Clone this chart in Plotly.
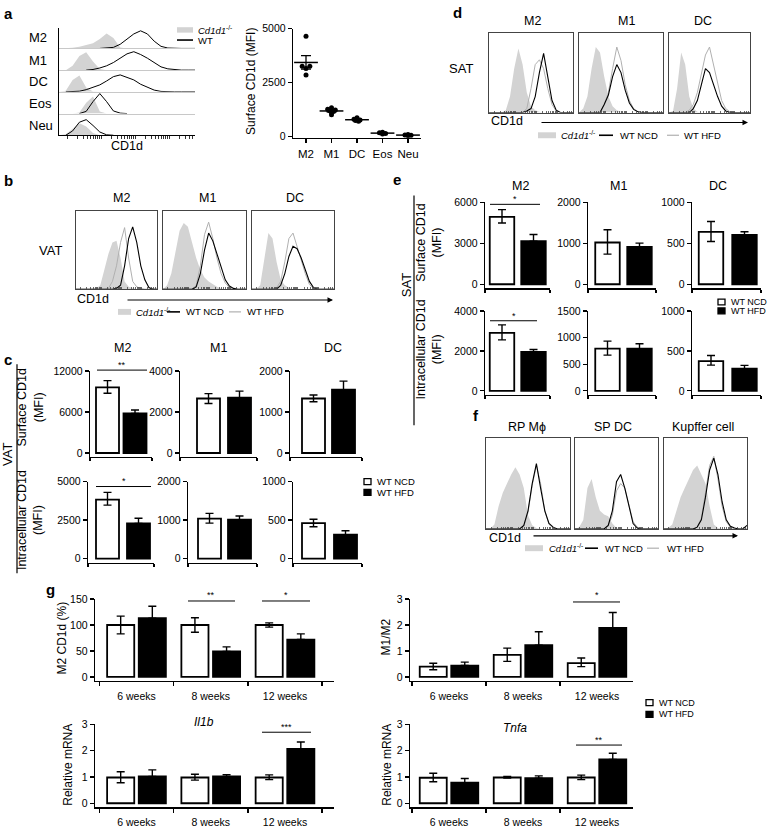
import math
import plotly.graph_objects as go

W, H = 772, 828
FONT = "Liberation Sans, Arial, sans-serif"
KO_FILL = "#d3d3d3"
HFD_LINE = "#b0b0b0"

# ======================= DATA =======================
# (a) surface CD1d, individual mice per cell type
A_CATS = ["M2", "M1", "DC", "Eos", "Neu"]
A_M2 = [4650, 3250, 3250, 3150, 2850]
A_M1 = [1320, 1260, 1220, 1180, 1150, 1100, 1000]
A_DC = [860, 790, 760, 730, 700]
A_EOS = [190, 160, 130, 100]
A_NEU = [80, 60, 45, 30]
A_JIT_M2 = [0, -0.15, 0.15, 0, 0]
A_JIT_M1 = [0, -0.15, 0.15, -0.08, 0.08, 0, 0]
A_JIT_DC = [0, -0.12, 0.12, -0.06, 0.06]
A_JIT_EOS = [0, -0.12, 0.12, 0]
A_JIT_NEU = [0, -0.12, 0.12, 0]
A_TICKS = [0, 2500, 5000]

# histogram channel positions (% of CD1d axis)
HX = [0, 5, 10, 15, 20, 25, 30, 35, 40, 45, 50, 55, 60, 65, 70, 75, 80, 85, 90, 95, 100]

# (a) stacked histograms (fraction of row height)
A_KO_M2 = [0, 0, 0.03, 0.08, 0.15, 0.25, 0.45, 0.72, 0.5, 0.05, 0, 0, 0, 0, 0, 0, 0, 0, 0, 0, 0]
A_WT_M2 = [None, None, None, None, None, None, 0, 0.02, 0.05, 0.2, 0.45, 0.7, 0.85, 0.7, 0.35, 0.1, 0.02, 0, 0, 0, 0]
A_KO_M1 = [0, 0, 0.2, 0.65, 0.82, 0.4, 0.05, 0, 0, 0, 0, 0, 0, 0, 0, 0, 0, 0, 0, 0, 0]
A_WT_M1 = [None, None, None, None, 0, 0.03, 0.1, 0.2, 0.35, 0.55, 0.75, 0.85, 0.72, 0.55, 0.35, 0.15, 0.06, 0.02, 0, 0, 0]
A_KO_DC = [0, 0.05, 0.55, 0.75, 0.2, 0.02, 0, 0, 0, 0, 0, 0, 0, 0, 0, 0, 0, 0, 0, 0, 0]
A_WT_DC = [None, 0, 0.01, 0.03, 0.1, 0.2, 0.32, 0.5, 0.7, 0.78, 0.68, 0.55, 0.35, 0.2, 0.08, 0.02, 0, 0, 0, 0, 0]
A_KO_EOS = [0, 0, 0, 0.05, 0.5, 0.78, 0.1, 0, 0, 0, 0, 0, 0, 0, 0, 0, 0, 0, 0, 0, 0]
A_WT_EOS = [None, None, None, 0, 0.1, 0.55, 0.92, 0.55, 0.12, 0.02, 0, None, None, None, None, None, None, None, None, None, None]
A_KO_NEU = [0, 0.05, 0.3, 0.55, 0.4, 0.1, 0, 0, 0, 0, 0, 0, 0, 0, 0, 0, 0, 0, 0, 0, 0]
A_WT_NEU = [None, 0, 0.2, 0.6, 0.72, 0.45, 0.15, 0.02, 0, None, None, None, None, None, None, None, None, None, None, None, None]

# (b) VAT histograms
B_M2_KO = [0, 0, 0, 0, 0, 0.01, 0.05, 0.25, 0.45, 0.6, 0.62, 0.4, 0.1, 0.03, 0.01, 0, 0, 0, 0, 0, 0]
B_M2_HFD = [0, 0, 0, 0, 0, 0, 0, 0, 0.01, 0.1, 0.3, 0.6, 0.79, 0.4, 0.1, 0.03, 0.01, 0, 0, 0, 0]
B_M2_NCD = [0, 0, 0, 0, 0, 0, 0, 0, 0, 0, 0.01, 0.05, 0.3, 0.65, 0.8, 0.6, 0.3, 0.12, 0.02, 0, 0]
B_M1_KO = [0, 0.05, 0.2, 0.5, 0.75, 0.85, 0.8, 0.6, 0.4, 0.25, 0.15, 0.1, 0.06, 0.03, 0.01, 0, 0, 0, 0, 0, 0]
B_M1_HFD = [0, 0, 0, 0, 0, 0, 0, 0, 0.05, 0.3, 0.7, 0.86, 0.65, 0.4, 0.2, 0.08, 0.02, 0, 0, 0, 0]
B_M1_NCD = [0, 0, 0, 0, 0, 0, 0, 0, 0.03, 0.2, 0.5, 0.72, 0.62, 0.45, 0.3, 0.12, 0.04, 0.01, 0, 0, 0]
B_DC_KO = [0, 0, 0.05, 0.4, 0.72, 0.65, 0.35, 0.12, 0.05, 0.02, 0, 0, 0, 0, 0, 0, 0, 0, 0, 0, 0]
B_DC_HFD = [0, 0, 0, 0, 0, 0, 0.02, 0.1, 0.35, 0.65, 0.72, 0.55, 0.35, 0.2, 0.06, 0.01, 0, 0, 0, 0, 0]
B_DC_NCD = [0, 0, 0, 0, 0, 0, 0, 0.05, 0.2, 0.42, 0.55, 0.52, 0.4, 0.25, 0.1, 0.02, 0, 0, 0, 0, 0]

# (d) SAT histograms
D_M2_KO = [0, 0, 0, 0, 0.03, 0.2, 0.55, 0.8, 0.6, 0.25, 0.08, 0.03, 0.01, 0, 0, 0, 0, 0, 0, 0, 0]
D_M2_HFD = [0, 0, 0, 0, 0, 0, 0, 0, 0, 0.05, 0.3, 0.6, 0.66, 0.55, 0.3, 0.1, 0.02, 0, 0, 0, 0]
D_M2_NCD = [0, 0, 0, 0, 0, 0, 0, 0, 0, 0.02, 0.05, 0.2, 0.5, 0.74, 0.45, 0.15, 0.03, 0, 0, 0, 0]
D_M1_KO = [0, 0.05, 0.2, 0.55, 0.82, 0.75, 0.45, 0.2, 0.08, 0.03, 0.01, 0, 0, 0, 0, 0, 0, 0, 0, 0, 0]
D_M1_HFD = [0, 0, 0, 0, 0, 0, 0.1, 0.25, 0.55, 0.82, 0.65, 0.35, 0.15, 0.05, 0.01, 0, 0, 0, 0, 0, 0]
D_M1_NCD = [0, 0, 0, 0, 0, 0, 0.1, 0.22, 0.45, 0.6, 0.5, 0.28, 0.12, 0.04, 0.01, 0, 0, 0, 0, 0, 0]
D_DC_KO = [0, 0.02, 0.3, 0.75, 0.6, 0.2, 0.05, 0.01, 0, 0, 0, 0, 0, 0, 0, 0, 0, 0, 0, 0, 0]
D_DC_HFD = [0, 0, 0, 0, 0, 0.03, 0.1, 0.25, 0.5, 0.72, 0.82, 0.6, 0.35, 0.15, 0.05, 0.01, 0, 0, 0, 0, 0]
D_DC_NCD = [0, 0, 0, 0, 0, 0, 0.05, 0.15, 0.35, 0.55, 0.5, 0.35, 0.2, 0.08, 0.02, 0, 0, 0, 0, 0, 0]

# (f) spleen / liver histograms
F_RP_KO = [0, 0, 0.05, 0.25, 0.4, 0.5, 0.6, 0.68, 0.6, 0.45, 0.15, 0.04, 0.01, 0, 0, 0, 0, 0, 0, 0, 0]
F_RP_HFD = [0, 0, 0, 0, 0, 0, 0, 0, 0, 0.03, 0.18, 0.48, 0.7, 0.5, 0.2, 0.05, 0.01, 0, 0, 0, 0]
F_RP_NCD = [0, 0, 0, 0, 0, 0, 0, 0, 0, 0.04, 0.2, 0.5, 0.72, 0.45, 0.2, 0.06, 0.02, 0, 0, 0, 0]
F_SP_KO = [0, 0.02, 0.1, 0.45, 0.55, 0.35, 0.2, 0.16, 0.14, 0.06, 0.01, 0, 0, 0, 0, 0, 0, 0, 0, 0, 0]
F_SP_HFD = [0, 0, 0, 0, 0, 0, 0, 0, 0.03, 0.15, 0.42, 0.5, 0.45, 0.28, 0.08, 0.02, 0, 0, 0, 0, 0]
F_SP_NCD = [0, 0, 0, 0, 0, 0, 0, 0, 0.04, 0.2, 0.52, 0.6, 0.45, 0.25, 0.06, 0.01, 0, 0, 0, 0, 0]
F_K_KO = [0, 0.01, 0.05, 0.2, 0.35, 0.45, 0.55, 0.65, 0.7, 0.6, 0.5, 0.25, 0.05, 0.01, 0, 0, 0, 0, 0, 0, 0]
F_K_HFD = [0, 0, 0, 0, 0, 0, 0, 0, 0.02, 0.12, 0.4, 0.7, 0.8, 0.55, 0.25, 0.08, 0.02, 0, 0, 0, 0]
F_K_NCD = [0, 0, 0, 0, 0, 0, 0, 0, 0.02, 0.1, 0.35, 0.65, 0.78, 0.6, 0.3, 0.1, 0.03, 0.01, 0, 0, 0.04]

# (c) VAT bar values (M2, M1, DC)
C_SURF_TICKS = [[0, 6000, 12000], [0, 2000, 4000], [0, 1000, 2000]]
C_SURF_NCD = [9600, 2660, 1330]
C_SURF_NCD_LO = [8750, 2420, 1250]
C_SURF_NCD_HI = [10600, 2900, 1415]
C_SURF_HFD = [5800, 2700, 1545]
C_SURF_HFD_HI = [6300, 3020, 1755]
C_INTRA_TICKS = [[0, 2500, 5000], [0, 1000, 2000], [0, 500, 1000]]
C_INTRA_NCD = [3830, 1040, 460]
C_INTRA_NCD_LO = [3470, 920, 413]
C_INTRA_NCD_HI = [4300, 1175, 511]
C_INTRA_HFD = [2280, 1010, 311]
C_INTRA_HFD_HI = [2620, 1105, 362]

# (e) SAT bar values (M2, M1, DC)
E_SURF_TICKS = [[0, 3000, 6000], [0, 1000, 2000], [0, 500, 1000]]
E_SURF_NCD = [4930, 1020, 640]
E_SURF_NCD_LO = [4490, 735, 522]
E_SURF_NCD_HI = [5470, 1330, 767]
E_SURF_HFD = [3160, 914, 604]
E_SURF_HFD_HI = [3640, 1004, 641]
E_INTRA_TICKS = [[0, 2000, 4000], [0, 500, 1000, 1500], [0, 500, 1000]]
E_INTRA_NCD = [2900, 790, 372]
E_INTRA_NCD_LO = [2550, 670, 322]
E_INTRA_NCD_HI = [3300, 932, 442]
E_INTRA_HFD = [1950, 790, 277]
E_INTRA_HFD_HI = [2070, 882, 318]

# (g) time course
G_WEEKS = ["6 weeks", "8 weeks", "12 weeks"]
G_M2_TICKS = [0, 50, 100, 150]
G_M2_NCD = [100, 100, 100]
G_M2_NCD_LO = [83, 86, 96]
G_M2_NCD_HI = [117, 114, 104]
G_M2_HFD = [113, 49, 72]
G_M2_HFD_HI = [136, 58, 83]
G_R_TICKS = [0, 1, 2, 3]
G_R_NCD = [0.40, 0.85, 0.53]
G_R_NCD_LO = [0.28, 0.60, 0.40]
G_R_NCD_HI = [0.53, 1.11, 0.73]
G_R_HFD = [0.44, 1.22, 1.89]
G_R_HFD_HI = [0.57, 1.74, 2.48]
G_IL_NCD = [0.98, 0.98, 0.98]
G_IL_NCD_LO = [0.78, 0.88, 0.90]
G_IL_NCD_HI = [1.20, 1.10, 1.08]
G_IL_HFD = [1.02, 1.02, 2.07]
G_IL_HFD_HI = [1.27, 1.09, 2.33]
G_TN_NCD = [0.97, 0.98, 0.98]
G_TN_NCD_LO = [0.82, 0.96, 0.90]
G_TN_NCD_HI = [1.14, 1.02, 1.07]
G_TN_HFD = [0.78, 0.95, 1.67]
G_TN_HFD_HI = [0.94, 1.04, 1.90]

# ======================= HELPERS =======================
axes, traces, shapes, anns = {}, [], [], []
_n = [0]


def px(x):
    return x / W


def py(y):
    return 1 - y / H


def new_axes(xpx, ypx, xr, yr, xkw, ykw):
    _n[0] += 1
    s = "" if _n[0] == 1 else str(_n[0])
    common = dict(showgrid=False, zeroline=False, fixedrange=True)
    xa = dict(common)
    xa.update(domain=[px(xpx[0]), px(xpx[1])], range=xr, anchor="y" + s)
    xa.update(xkw)
    ya = dict(common)
    ya.update(domain=[py(ypx[1]), py(ypx[0])], range=yr, anchor="x" + s)
    ya.update(ykw)
    axes["xaxis" + s] = xa
    axes["yaxis" + s] = ya
    return "x" + s, "y" + s


def text(t, x, y, size=11, xanchor="center", angle=0):
    anns.append(dict(text=t, x=px(x), y=py(y), xref="paper", yref="paper", showarrow=False,
                     xanchor=xanchor, yanchor="middle", textangle=angle,
                     font=dict(size=size, color="black", family=FONT)))


def hline(x0, x1, y, color="black", width=1.0):
    shapes.append(dict(type="line", xref="paper", yref="paper", x0=px(x0), x1=px(x1),
                       y0=py(y), y1=py(y), line=dict(color=color, width=width)))


def vline(x, y0, y1, color="black", width=1.0):
    shapes.append(dict(type="line", xref="paper", yref="paper", x0=px(x), x1=px(x),
                       y0=py(y0), y1=py(y1), line=dict(color=color, width=width)))


def rect(x0, x1, y0, y1, fill, lc=None, lw=0):
    shapes.append(dict(type="rect", xref="paper", yref="paper", x0=px(x0), x1=px(x1),
                       y0=py(y1), y1=py(y0), fillcolor=fill,
                       line=dict(color=lc or fill, width=lw)))


def arrow(x0, x1, y):
    anns.append(dict(text="", x=px(x1), y=py(y), xref="paper", yref="paper", ax=-(x1 - x0), ay=0,
                     axref="pixel", ayref="pixel", showarrow=True, arrowhead=2, arrowsize=1,
                     arrowwidth=1.1, arrowcolor="black"))


def hist_legend(y, xs):
    r0, r1, t1, b0, b1, t2, g0, g1, t3 = xs
    rect(r0, r1, y - 3, y + 3, KO_FILL)
    text("<i>Cd1d1</i><sup>-/-</sup>", t1, y, 9.5, "left")
    hline(b0, b1, y, "black", 1.6)
    text("WT NCD", t2, y, 9.5, "left")
    hline(g0, g1, y, HFD_LINE, 1.2)
    text("WT HFD", t3, y, 9.5, "left")


def sq_legend(x, y1, y2, size=9.5):
    rect(x, x + 7, y1 - 3, y1 + 3, "white", "black", 1.3)
    text("WT NCD", x + 11, y1, size, "left")
    rect(x, x + 7, y2 - 3, y2 + 3, "black", "black", 1.3)
    text("WT HFD", x + 11, y2, size, "left")


HIST_TICKS = sorted(d + 25 * math.log10(k) for d in (6, 31, 56, 81) for k in range(1, 10)
                    if d + 25 * math.log10(k) < 100)

BOX_X = dict(showline=True, mirror=True, linecolor="#444", linewidth=1, ticks="inside",
             ticklen=2, tickcolor="#444", tickwidth=0.8, tickvals=HIST_TICKS, showticklabels=False)
BOX_Y = dict(showline=True, mirror=True, linecolor="#444", linewidth=1, ticks="", showticklabels=False)


def hist_box(x0, x1, y0, y1, ko, ncd, hfd):
    xa, ya = new_axes((x0, x1), (y0, y1), [0, 100], [0, 1], BOX_X, BOX_Y)
    traces.append(go.Scatter(x=HX, y=ko, mode="lines", fill="tozeroy", fillcolor=KO_FILL,
                             line=dict(width=0, color=KO_FILL), xaxis=xa, yaxis=ya))
    traces.append(go.Scatter(x=HX, y=hfd, mode="lines", line=dict(width=1, color=HFD_LINE),
                             xaxis=xa, yaxis=ya))
    traces.append(go.Scatter(x=HX, y=ncd, mode="lines", line=dict(width=1.1, color="black"),
                             xaxis=xa, yaxis=ya))


LW = 1.3


def yax(tv):
    return dict(showline=True, linecolor="black", linewidth=LW, ticks="outside", ticklen=4,
                tickwidth=LW, tickcolor="black", tickvals=tv, ticktext=[str(v) for v in tv],
                tickfont=dict(size=10.5, color="black", family=FONT))


def bar_pair(axis_px, c0, sp, end_px, ytop, yzero, tv, ncd, nlo, nhi, hfd, hhi, bw_px=23, gap=4):
    ymax = tv[-1]
    ppu = (yzero - ytop) / ymax
    lu = (c0 - axis_px) / sp
    ru = (end_px - c0) / sp
    xr = [-lu, ru]
    xkw = dict(showline=True, linecolor="black", linewidth=LW, ticks="outside", ticklen=3,
               tickwidth=LW, tickcolor="black", tickvals=xr, showticklabels=False)
    xa, ya = new_axes((axis_px, end_px), (ytop, yzero + gap), xr, [-gap / ppu, ymax], xkw, yax(tv))
    bw = bw_px / sp
    traces.append(go.Bar(x=[0], y=[ncd], width=bw, xaxis=xa, yaxis=ya,
                         marker=dict(color="white", line=dict(color="black", width=1.8)),
                         error_y=dict(type="data", symmetric=False, array=[nhi - ncd],
                                      arrayminus=[ncd - nlo], color="black", thickness=1.4, width=4)))
    traces.append(go.Bar(x=[1], y=[hfd], width=bw, xaxis=xa, yaxis=ya,
                         marker=dict(color="black", line=dict(color="black", width=1.8)),
                         error_y=dict(type="data", symmetric=False, array=[hhi - hfd],
                                      arrayminus=[0], color="black", thickness=1.4, width=4)))


def group_bars(axis_px, end_px, c_first, gsp, ytop, yzero, tv, ncd, nlo, nhi, hfd, hhi,
               d=0.213, bw=0.365, gap=4):
    ymax = tv[-1]
    ppu = (yzero - ytop) / ymax
    xr = [(axis_px - c_first) / gsp, (end_px - c_first) / gsp]
    n = len(G_WEEKS)
    xkw = dict(showline=True, linecolor="black", linewidth=LW, ticks="",
               tickvals=list(range(n)), ticktext=G_WEEKS, ticklabelstandoff=5,
               tickfont=dict(size=10.5, color="black", family=FONT),
               minor=dict(tickvals=[i - 0.5 for i in range(n + 1)], ticks="outside", ticklen=4,
                          tickcolor="black", tickwidth=LW))
    xa, ya = new_axes((axis_px, end_px), (ytop, yzero + gap), xr, [-gap / ppu, ymax], xkw, yax(tv))
    xs = list(range(n))
    traces.append(go.Bar(x=[x - d for x in xs], y=ncd, width=bw, xaxis=xa, yaxis=ya,
                         marker=dict(color="white", line=dict(color="black", width=1.8)),
                         error_y=dict(type="data", symmetric=False,
                                      array=[h - v for h, v in zip(nhi, ncd)],
                                      arrayminus=[v - l for v, l in zip(ncd, nlo)],
                                      color="black", thickness=1.4, width=4)))
    traces.append(go.Bar(x=[x + d for x in xs], y=hfd, width=bw, xaxis=xa, yaxis=ya,
                         marker=dict(color="black", line=dict(color="black", width=1.8)),
                         error_y=dict(type="data", symmetric=False,
                                      array=[h - v for h, v in zip(hhi, hfd)],
                                      arrayminus=[0] * n, color="black", thickness=1.4, width=4)))


# ======================= PANEL a =======================
text("<b>a</b>", 2, 8, 15, "left")
rows = [(22, 43, A_KO_M2, A_WT_M2), (43, 65, A_KO_M1, A_WT_M1), (65, 87, A_KO_DC, A_WT_DC),
        (87, 109, A_KO_EOS, A_WT_EOS), (109, 131, A_KO_NEU, A_WT_NEU)]
for i, (y0, y1, ko, wt) in enumerate(rows):
    last = i == len(rows) - 1
    if last:
        xkw = dict(showline=True, linecolor="black", linewidth=1.2, ticks="outside", ticklen=2.5,
                   tickwidth=0.8, tickcolor="black", tickvals=HIST_TICKS, showticklabels=False)
    else:
        xkw = dict(showline=True, linecolor="#c8c8c8", linewidth=1, ticks="", showticklabels=False)
    ykw = dict(showline=True, linecolor="black", linewidth=1.2, ticks="", showticklabels=False)
    xa, ya = new_axes((59, 195), (y0, y1), [0, 100], [0, 1], xkw, ykw)
    traces.append(go.Scatter(x=HX, y=ko, mode="lines", fill="tozeroy", fillcolor=KO_FILL,
                             line=dict(width=0, color=KO_FILL), xaxis=xa, yaxis=ya))
    traces.append(go.Scatter(x=HX, y=wt, mode="lines", line=dict(width=1, color="black"),
                             connectgaps=False, xaxis=xa, yaxis=ya, cliponaxis=False))
for lab, yy in zip(A_CATS, [32, 55, 77, 99, 121]):
    text(lab, 27, yy, 13, "left")
text("CD1d", 127, 142, 12.5)
rect(177, 193, 21.5, 27, KO_FILL)
text("<i>Cd1d1</i><sup>-/-</sup>", 196, 24, 9.5, "left")
hline(177, 193, 34.5, "black", 1.6)
text("WT", 196, 34.5, 9.5, "left")

# scatter
a_gap = 1.5
a_ppu = (132 - 23) / A_TICKS[-1]
xr_a = [(293 - 306) / 25.5, (421 - 306) / 25.5]
xa, ya = new_axes((293, 421), (23, 132 + a_gap), xr_a, [-a_gap / a_ppu, A_TICKS[-1]],
                  dict(showline=True, linecolor="black", linewidth=LW, ticks="outside", ticklen=4,
                       tickwidth=LW, tickcolor="black", tickvals=list(range(5)), ticktext=A_CATS,
                       tickfont=dict(size=11.5, color="black", family=FONT), ticklabelstandoff=1),
                  yax(A_TICKS))
groups = [(A_M2, A_JIT_M2), (A_M1, A_JIT_M1), (A_DC, A_JIT_DC), (A_EOS, A_JIT_EOS), (A_NEU, A_JIT_NEU)]
for i, (vals, jit) in enumerate(groups):
    traces.append(go.Scatter(x=[i + j for j in jit], y=vals, mode="markers", xaxis=xa, yaxis=ya,
                             marker=dict(size=5, color="black"), cliponaxis=False))
    m = sum(vals) / len(vals)
    sd = math.sqrt(sum((v - m) ** 2 for v in vals) / (len(vals) - 1))
    sem = sd / math.sqrt(len(vals))
    traces.append(go.Scatter(x=[i], y=[m], mode="markers", xaxis=xa, yaxis=ya, cliponaxis=False,
                             marker=dict(symbol="line-ew", size=17, color="black",
                                         line=dict(width=1.5, color="black")),
                             error_y=dict(type="data", array=[sem], color="black", thickness=1.3, width=5)))
text("Surface CD1d (MFI)", 251, 77, 12, angle=-90)

# ======================= PANEL b =======================
text("<b>b</b>", 2, 177, 15, "left")
hist_box(76, 157, 208, 287, B_M2_KO, B_M2_NCD, B_M2_HFD)
hist_box(163, 246, 208, 287, B_M1_KO, B_M1_NCD, B_M1_HFD)
hist_box(252, 334, 208, 287, B_DC_KO, B_DC_NCD, B_DC_HFD)
text("M2", 121, 195, 12.5)
text("M1", 207.5, 195, 12.5)
text("DC", 295, 195, 12.5)
text("VAT", 37, 248, 13, "left")
text("CD1d", 75, 297, 12.5, "left")
arrow(126, 333, 298)
hist_legend(310, (118, 131, 134, 167, 180, 184, 229, 241, 245))

# ======================= PANEL c =======================
text("<b>c</b>", 2, 358, 15, "left")
text("M2", 122, 347, 12.5)
text("M1", 218, 347, 12.5)
text("DC", 333, 347, 12.5)
c_top = [(90, 107.5, 27.5, 152), (180, 208.5, 31, 257), (290, 313.5, 30, 362)]
for k, (ax0, c0, sp, end) in enumerate(c_top):
    bar_pair(ax0, c0, sp, end, 370, 453, C_SURF_TICKS[k], C_SURF_NCD[k], C_SURF_NCD_LO[k],
             C_SURF_NCD_HI[k], C_SURF_HFD[k], C_SURF_HFD_HI[k])
c_bot = [(88, 107.5, 31, 154), (188, 209.5, 30, 257), (293, 313.5, 32, 362)]
for k, (ax0, c0, sp, end) in enumerate(c_bot):
    bar_pair(ax0, c0, sp, end, 482, 560, C_INTRA_TICKS[k], C_INTRA_NCD[k], C_INTRA_NCD_LO[k],
             C_INTRA_NCD_HI[k], C_INTRA_HFD[k], C_INTRA_HFD_HI[k])
text("Surface CD1d<br>(MFI)", 30, 407, 12.5, angle=-90)
text("Intracellular CD1d<br>(MFI)", 30, 521, 12.5, angle=-90)
text("VAT", 8, 455, 13, angle=-90)
vline(17, 363, 575, "black", 1.2)
hline(97, 147, 369)
text("**", 122, 364, 9)
hline(96, 151, 487)
text("*", 123.5, 481, 9)
sq_legend(364, 482, 493)

# ======================= PANEL d =======================
text("<b>d</b>", 451, 7, 15, "left")
hist_box(489, 573, 27, 108, D_M2_KO, D_M2_NCD, D_M2_HFD)
hist_box(579, 663, 27, 108, D_M1_KO, D_M1_NCD, D_M1_HFD)
hist_box(669, 750, 27, 108, D_DC_KO, D_DC_NCD, D_DC_HFD)
text("M2", 532, 15, 12.5)
text("M1", 626, 15, 12.5)
text("DC", 702.5, 15, 12.5)
text("SAT", 447, 63, 13, "left")
text("CD1d", 489, 117, 12.5, "left")
arrow(540, 748, 118)
hist_legend(131, (538, 556, 559, 599, 613, 618, 667, 679, 682))

# ======================= PANEL e =======================
text("<b>e</b>", 391, 176, 15, "left")
text("M2", 520, 182, 12.5)
text("M1", 618, 182, 12.5)
text("DC", 718, 182, 12.5)
e_x = [(485, 502, 31.5, 550), (588, 607.5, 32, 656), (692, 711, 33.5, 761)]
for k, (ax0, c0, sp, end) in enumerate(e_x):
    bar_pair(ax0, c0, sp, end, 199, 282, E_SURF_TICKS[k], E_SURF_NCD[k], E_SURF_NCD_LO[k],
             E_SURF_NCD_HI[k], E_SURF_HFD[k], E_SURF_HFD_HI[k], bw_px=24.5)
for k, (ax0, c0, sp, end) in enumerate(e_x):
    bar_pair(ax0, c0, sp, end, 309, 390, E_INTRA_TICKS[k], E_INTRA_NCD[k], E_INTRA_NCD_LO[k],
             E_INTRA_NCD_HI[k], E_INTRA_HFD[k], E_INTRA_HFD_HI[k], bw_px=24.5)
text("Surface CD1d<br>(MFI)", 429, 240, 12.5, angle=-90)
text("Intracellular CD1d<br>(MFI)", 429, 348, 12.5, angle=-90)
text("SAT", 406, 283, 13, angle=-90)
vline(414, 192, 425, "black", 1.2)
hline(490, 540, 201)
text("*", 515, 196, 9)
hline(490, 537, 319)
text("*", 513.5, 314, 9)
sq_legend(718, 300, 309, 9)

# ======================= PANEL f =======================
text("<b>f</b>", 471, 415, 15, "left")
hist_box(486, 570, 438, 530, F_RP_KO, F_RP_NCD, F_RP_HFD)
hist_box(575, 658, 438, 530, F_SP_KO, F_SP_NCD, F_SP_HFD)
hist_box(664, 747, 438, 530, F_K_KO, F_K_NCD, F_K_HFD)
text("RP Mϕ", 527, 427, 12.5)
text("SP DC", 612.5, 427, 12.5)
text("Kupffer cell", 702.5, 427, 12.5)
text("CD1d", 487, 539, 12.5, "left")
arrow(532, 738, 537)
hist_legend(549.5, (525, 543, 547, 585, 598, 603, 647, 659, 665))

# ======================= PANEL g =======================
text("<b>g</b>", 44, 591, 15, "left")
group_bars(95, 334, 136.5, 74.25, 601, 680, G_M2_TICKS, G_M2_NCD, G_M2_NCD_LO, G_M2_NCD_HI,
           G_M2_HFD, G_M2_HFD_HI)
group_bars(410, 633, 449, 74, 601, 680, G_R_TICKS, G_R_NCD, G_R_NCD_LO, G_R_NCD_HI,
           G_R_HFD, G_R_HFD_HI)
group_bars(95, 334, 136.5, 74.25, 728, 808, G_R_TICKS, G_IL_NCD, G_IL_NCD_LO, G_IL_NCD_HI,
           G_IL_HFD, G_IL_HFD_HI)
group_bars(410, 633, 449, 74, 728, 808, G_R_TICKS, G_TN_NCD, G_TN_NCD_LO, G_TN_NCD_HI,
           G_TN_HFD, G_TN_HFD_HI)
text("M2 CD1d (%)", 62, 640, 12, angle=-90)
text("M1/M2", 386, 640, 12, angle=-90)
text("Relative mRNA", 68, 769, 12, angle=-90)
text("Relative mRNA", 387, 769, 12, angle=-90)
text("<i>Il1b</i>", 204, 726, 12)
text("<i>Tnfa</i>", 515, 732, 12)
hline(188, 235, 603)
text("**", 211.5, 597, 9)
hline(262, 310, 603)
text("*", 286, 597, 9)
hline(573, 620, 604)
text("*", 596.5, 597, 9)
hline(262, 311, 736)
text("***", 286.5, 731, 9)
hline(576, 622, 749)
text("**", 599, 744, 9)
sq_legend(646, 706, 718, 9)

# ======================= FIGURE =======================
fig = go.Figure(data=traces)
fig.update_layout(width=W, height=H, margin=dict(l=0, r=0, t=0, b=0), paper_bgcolor="white",
                  plot_bgcolor="white", showlegend=False, barmode="overlay",
                  font=dict(family=FONT, color="black"), shapes=shapes, annotations=anns, **axes)
fig.write_html("out.html", config={"displayModeBar": False, "staticPlot": True},
               post_script="document.body.style.margin='0';document.body.style.padding='0';"
                           "document.body.style.overflow='hidden';")
